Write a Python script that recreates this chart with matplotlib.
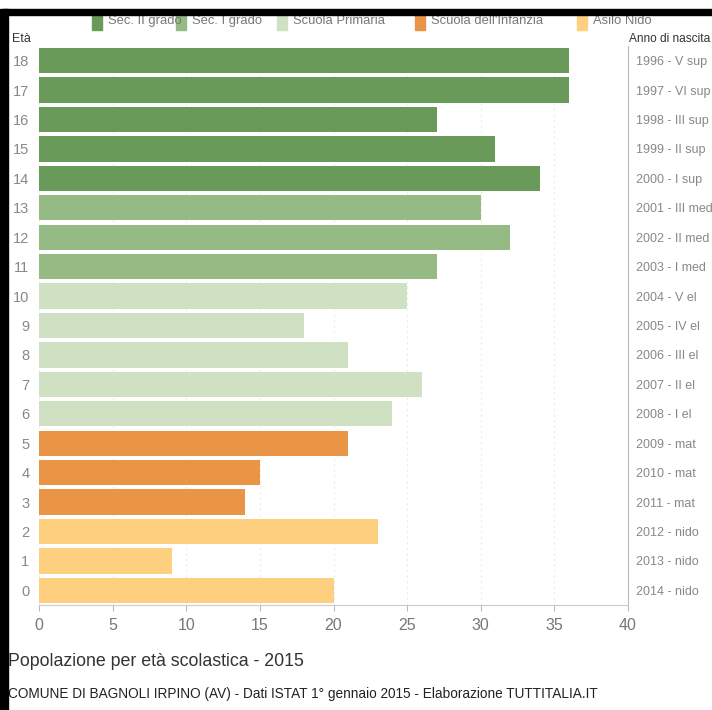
import matplotlib
matplotlib.use("Agg")
import matplotlib.pyplot as plt
from matplotlib.patches import Rectangle

plt.rcParams["font.family"] = ["Liberation Sans", "DejaVu Sans"]

# Data
ages = list(range(0, 19))
values = [20, 9, 23, 14, 15, 21, 24, 26, 21, 18, 25, 27, 32, 30, 34, 31, 27, 36, 36]
birth_labels = ["2014 - nido", "2013 - nido", "2012 - nido", "2011 - mat", "2010 - mat",
                "2009 - mat", "2008 - I el", "2007 - II el", "2006 - III el", "2005 - IV el",
                "2004 - V el", "2003 - I med", "2002 - II med", "2001 - III med", "2000 - I sup",
                "1999 - II sup", "1998 - III sup", "1997 - VI sup", "1996 - V sup"]
groups = ["Asilo Nido"] * 3 + ["Scuola dell'Infanzia"] * 3 + ["Scuola Primaria"] * 5 + \
         ["Sec. I grado"] * 3 + ["Sec. II grado"] * 5
legend_order = ["Sec. II grado", "Sec. I grado", "Scuola Primaria", "Scuola dell'Infanzia", "Asilo Nido"]
colors = {"Sec. II grado": "#6a9a5a", "Sec. I grado": "#95ba84", "Scuola Primaria": "#d0e0c2",
          "Scuola dell'Infanzia": "#ea9445", "Asilo Nido": "#fdcf7e"}

W, H = 712, 710
fig = plt.figure(figsize=(W / 100, H / 100), dpi=100)
ax = fig.add_axes([39 / W, 1 - 605 / H, (628 - 39) / W, (605 - 46) / H])

ax.barh(ages, values, height=0.86, color=[colors[g] for g in groups], zorder=2)
ax.set_xlim(0, 40)
ax.set_ylim(-0.5, 18.5)
ax.set_xticks(range(0, 41, 5))
ax.set_yticks(ages)
ax.set_yticklabels([str(a) for a in ages])
ax.tick_params(axis="x", colors="#bbbbbb", labelcolor="#777777", labelsize=11.5, length=4, pad=5)
ax.tick_params(axis="y", length=0, labelcolor="#888888", labelsize=10.5, pad=7)
ax.grid(axis="x", color="#ececec", linestyle=(0, (2, 3)), linewidth=0.8, zorder=0)
for s in ["top", "left"]:
    ax.spines[s].set_visible(False)
ax.spines["bottom"].set_color("#cccccc")
ax.spines["right"].set_color("#bbbbbb")

ax2 = ax.twinx()
ax2.set_ylim(ax.get_ylim())
ax2.set_yticks(ages)
ax2.set_yticklabels(birth_labels)
ax2.tick_params(axis="y", length=0, labelcolor="#888888", labelsize=9.0, pad=6)
for s in ["top", "left", "bottom", "right"]:
    ax2.spines[s].set_visible(False)

fig.text(12 / W, 1 - 39 / H, "Età", fontsize=9, color="#333333", va="center", ha="left")
fig.text(629 / W, 1 - 39 / H, "Anno di nascita", fontsize=8.6, color="#333333", va="center", ha="left")

# Legend
leg_x = [92, 176, 277, 415, 577]
for name, lx in zip(legend_order, leg_x):
    fig.patches.append(Rectangle((lx / W, 1 - 30 / H), 10 / W, 16 / H, transform=fig.transFigure,
                                 color=colors[name], zorder=1))
    fig.text((lx + 16) / W, 1 - 21 / H, name, fontsize=9.4, color="#777777", va="center", ha="left")

fig.text(8 / W, 1 - 661 / H, "Popolazione per età scolastica - 2015", fontsize=12.8, color="#333333",
         va="center", ha="left")
fig.text(8 / W, 1 - 694 / H,
         "COMUNE DI BAGNOLI IRPINO (AV) - Dati ISTAT 1° gennaio 2015 - Elaborazione TUTTITALIA.IT",
         fontsize=9.8, color="#222222", va="center", ha="left")

# Black frame edges
fig.patches.append(Rectangle((0, 0), 8 / W, 1 - 9 / H, transform=fig.transFigure, color="black", zorder=5))
fig.patches.append(Rectangle((3 / W, 1 - 15 / H), 1, 6 / H, transform=fig.transFigure, color="black", zorder=5))

fig.savefig("out.png", dpi=100)
